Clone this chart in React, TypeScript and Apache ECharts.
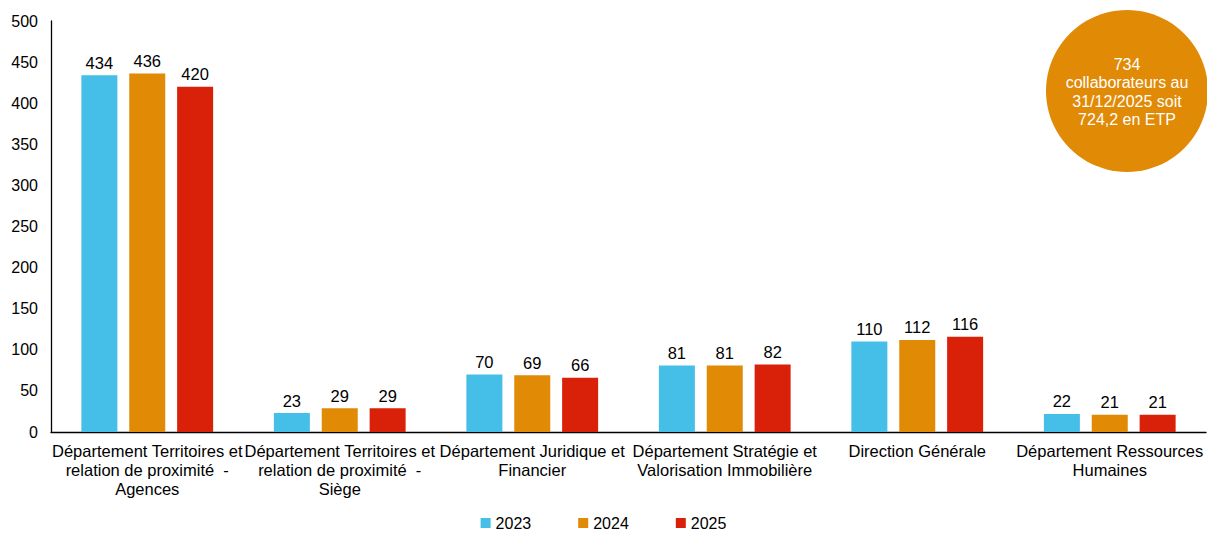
import React, { useEffect, useRef } from "react";
import * as echarts from "echarts";

const categories = [
  "Département Territoires et\nrelation de proximité  -\nAgences",
  "Département Territoires et\nrelation de proximité  -\nSiège",
  "Département Juridique et\nFinancier",
  "Département Stratégie et\nValorisation Immobilière",
  "Direction Générale",
  "Département Ressources\nHumaines",
];
const years = ["2023", "2024", "2025"];
const values2023 = [434, 23, 70, 81, 110, 22];
const values2024 = [436, 29, 69, 81, 112, 21];
const values2025 = [420, 29, 66, 82, 116, 21];
const colors = ["#45BFE8", "#E08A06", "#D92008"];
const yTicks = { min: 0, max: 500, interval: 50 };
const bubbleLines = ["734", "collaborateurs au", "31/12/2025 soit", "724,2 en ETP"];

export default function App() {
  const ref = useRef<HTMLDivElement>(null);
  useEffect(() => {
    if (!ref.current) return;
    const chart = echarts.init(ref.current, undefined, { renderer: "svg" });
    const font = "Liberation Sans, Arial, sans-serif";
    const seriesData = [values2023, values2024, values2025];
    chart.setOption({
      animation: false,
      textStyle: { fontFamily: font },
      grid: { left: 51, right: 1, top: 21, bottom: 102, containLabel: false },
      legend: {
        top: 511,
        left: "center",
        padding: [4, 5, 0, 5],
        itemWidth: 10,
        itemHeight: 10,
        itemGap: 47,
        icon: "rect",
        textStyle: { fontSize: 16, color: "#000", fontFamily: font },
        data: years,
      },
      xAxis: {
        type: "category",
        data: categories,
        axisLine: { lineStyle: { color: "#000", width: 1.3 } },
        axisTick: { show: false },
        axisLabel: {
          interval: 0,
          color: "#000",
          fontSize: 16.5,
          lineHeight: 19,
          margin: 9,
          fontFamily: font,
        },
      },
      yAxis: {
        type: "value",
        min: yTicks.min,
        max: yTicks.max,
        interval: yTicks.interval,
        axisLine: { show: true, lineStyle: { color: "#000", width: 1.3 } },
        axisTick: { show: false },
        splitLine: { show: false },
        axisLabel: { color: "#000", fontSize: 16, margin: 13, fontFamily: font },
      },
      series: years.map((y, i) => ({
        name: y,
        type: "bar",
        data: seriesData[i],
        barWidth: 36,
        barGap: "33%",
        itemStyle: { color: colors[i] },
        label: {
          show: true,
          position: "top",
          color: "#000",
          fontSize: 16.5,
          distance: 4,
          fontFamily: font,
        },
      })),
      graphic: [
        {
          type: "circle",
          shape: { cx: 1127, cy: 91, r: 81 },
          style: { fill: "#E08A06" },
          z: 10,
        },
        {
          type: "text",
          x: 1127,
          y: 92,
          z: 11,
          style: {
            text: bubbleLines.join("\n"),
            fill: "#fff",
            fontSize: 16,
            lineHeight: 18.5,
            align: "center",
            verticalAlign: "middle",
            fontFamily: font,
          },
        },
      ],
    });
    return () => chart.dispose();
  }, []);
  return <div ref={ref} style={{ width: 1207, height: 534, position: "absolute", left: 0, top: 0 }} />;
}
